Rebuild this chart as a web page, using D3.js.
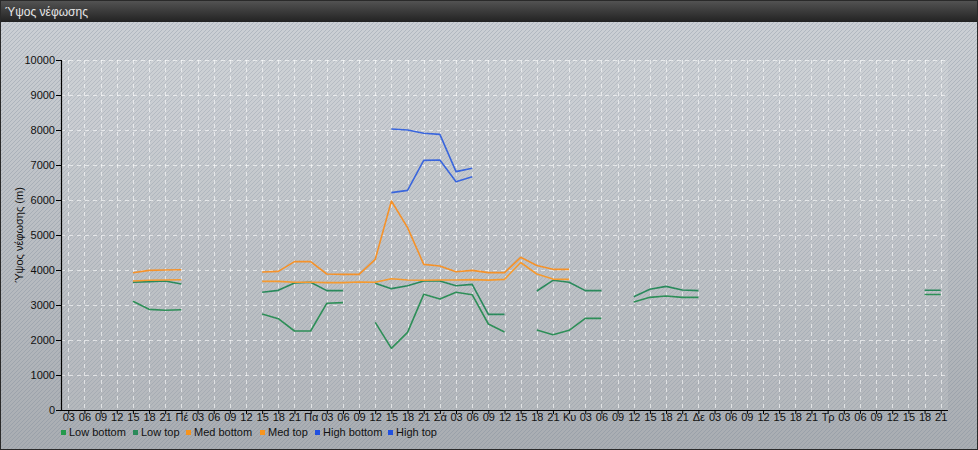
<!DOCTYPE html>
<html><head><meta charset="utf-8">
<script src="https://cdn.jsdelivr.net/npm/d3@7"></script>
<style>html,body{margin:0;padding:0;background:#fff;}svg{display:block;font-family:"Liberation Sans",Arial,sans-serif;}</style>
</head><body>
<script>
const title = "Ύψος νέφωσης";
const yTitle = "Ύψος νέφωσης (m)";
const xLabels = ["03","06","09","12","15","18","21","Πέ","03","06","09","12","15","18","21","Πα","03","06","09","12","15","18","21","Σά","03","06","09","12","15","18","21","Κυ","03","06","09","12","15","18","21","Δε","03","06","09","12","15","18","21","Τρ","03","06","09","12","15","18","21"];
const yTicks = [0,1000,2000,3000,4000,5000,6000,7000,8000,9000,10000];
const seriesNames = ["Low bottom","Low top","Med bottom","Med top","High bottom","High top"];
const seriesColors = ["#249a4c","#2a8a5a","#f7941d","#f7941d","#2050e0","#2050e0"];
const lineColors = ["#2e8f58","#2a8a5c","#f59a30","#f5922a","#3a66dd","#3a66dd"];
const N = null;
const lowBottom = [N,N,N,N,3105,2876,2848,2866,N,N,N,N,2743,2610,2257,2257,3048,3067,N,2505,1762,2219,3305,3171,3362,3295,2457,2229,N,2286,2152,2276,2619,2619,N,3086,3219,3257,3219,3219,N,N,N,N,N,N,N,N,N,N,N,N,N,3300,3300];
const lowTop = [N,N,N,N,3648,3667,3686,3600,N,N,N,N,3362,3419,3629,3648,3410,3410,N,3619,3467,3552,3686,3686,3552,3590,2733,2733,N,3400,3705,3648,3410,3410,N,3238,3448,3533,3429,3410,N,N,N,N,N,N,N,N,N,N,N,N,N,3420,3420];
const medBottom = [N,N,N,N,3686,3705,3714,3723,N,N,N,N,3676,3676,3648,3648,3638,3638,3657,3648,3752,3714,3705,3714,3714,3724,3710,3733,4215,3886,3740,3733,N,N,N,N,N,N,N,N,N,N,N,N,N,N,N,N,N,N,N,N,N,N,N];
const medTop = [N,N,N,N,3923,3990,4000,4009,N,N,N,N,3943,3962,4238,4238,3886,3876,3876,4305,5971,5210,4162,4114,3952,3990,3924,3924,4362,4130,4019,4019,N,N,N,N,N,N,N,N,N,N,N,N,N,N,N,N,N,N,N,N,N,N,N];
const highBottom = [N,N,N,N,N,N,N,N,N,N,N,N,N,N,N,N,N,N,N,N,6210,6276,7133,7143,6524,6667,N,N,N,N,N,N,N,N,N,N,N,N,N,N,N,N,N,N,N,N,N,N,N,N,N,N,N,N,N];
const highTop = [N,N,N,N,N,N,N,N,N,N,N,N,N,N,N,N,N,N,N,N,8029,8000,7905,7876,6810,6905,N,N,N,N,N,N,N,N,N,N,N,N,N,N,N,N,N,N,N,N,N,N,N,N,N,N,N,N,N];
const seriesData = [lowBottom, lowTop, medBottom, medTop, highBottom, highTop];

const W = 978, H = 450;
const svg = d3.select("body").append("svg").attr("width", W).attr("height", H);
const defs = svg.append("defs");
const bg = defs.append("linearGradient").attr("id","bg").attr("x1",0).attr("y1",0).attr("x2",0).attr("y2",1);
bg.append("stop").attr("offset","0%").attr("stop-color","#cdd1d6");
bg.append("stop").attr("offset","100%").attr("stop-color","#a9adb2");
const tb = defs.append("linearGradient").attr("id","tb").attr("x1",0).attr("y1",0).attr("x2",0).attr("y2",1);
tb.append("stop").attr("offset","0%").attr("stop-color","#555555");
tb.append("stop").attr("offset","100%").attr("stop-color","#222222");
const pat = defs.append("pattern").attr("id","hatch").attr("patternUnits","userSpaceOnUse").attr("width",4).attr("height",4);
pat.append("path").attr("d","M-1,1 l2,-2 M0,4 l4,-4 M3,5 l2,-2").attr("stroke","rgba(110,125,145,0.28)").attr("stroke-width",1);

svg.append("rect").attr("width",W).attr("height",H).attr("fill","url(#bg)");
svg.append("rect").attr("width",W).attr("height",H).attr("fill","url(#hatch)");
svg.append("rect").attr("width",W).attr("height",22).attr("fill","url(#tb)");
svg.append("text").attr("x",5).attr("y",16).attr("fill","#e6e6e6").attr("font-size",12).text(title);
svg.append("rect").attr("x",0.5).attr("y",0.5).attr("width",W-1).attr("height",H-1).attr("fill","none").attr("stroke","#2a2a2a").attr("stroke-width",1);

const L = 61, R = 948, T = 60, B = 410;
const x = d3.scalePoint().domain(d3.range(xLabels.length)).range([L, R]).padding(0.45);
const y = d3.scaleLinear().domain([0, 10000]).range([B, T]);

svg.append("rect").attr("x",L).attr("y",T).attr("width",R-L).attr("height",B-T).attr("fill","rgba(255,255,255,0.10)");

const grid = svg.append("g").attr("stroke","rgba(255,255,255,0.6)").attr("stroke-dasharray","4,4").attr("stroke-width",1);
grid.selectAll(".h").data(yTicks.slice(1)).join("line")
  .attr("x1",L).attr("x2",R).attr("y1",d=>Math.round(y(d))+0.5).attr("y2",d=>Math.round(y(d))+0.5);
grid.selectAll(".v").data(d3.range(xLabels.length)).join("line")
  .attr("x1",d=>Math.round(x(d))+0.5).attr("x2",d=>Math.round(x(d))+0.5).attr("y1",T).attr("y2",B);

const line = d3.line().defined(d=>d.v!==null).x(d=>x(d.i)).y(d=>y(d.v));
seriesData.forEach((arr, k) => {
  svg.append("path").datum(arr.map((v,i)=>({i,v})))
    .attr("fill","none").attr("stroke",lineColors[k]).attr("stroke-width",1.6)
    .attr("stroke-linejoin","round").attr("d", line);
});

const yAxis = svg.append("g").attr("transform",`translate(${L},0)`)
  .call(d3.axisLeft(y).tickValues(yTicks).tickSize(5).tickSizeOuter(0).tickFormat(d3.format("d")));
const xAxis = svg.append("g").attr("transform",`translate(0,${B})`)
  .call(d3.axisBottom(x).tickSize(4).tickSizeOuter(0).tickFormat(i=>xLabels[i]));
[yAxis, xAxis].forEach(g => {
  g.select(".domain").attr("stroke","#000").attr("stroke-width",1.2);
  g.selectAll(".tick line").attr("stroke","#000");
  g.selectAll("text").attr("fill","#111").attr("font-size",11).attr("font-family","Liberation Sans, Arial, sans-serif");
});
xAxis.selectAll("text").attr("dy","0.55em").attr("y",5);
xAxis.select(".domain").attr("d",`M${L},0.5H${R}`);
yAxis.select(".domain").attr("d",`M0.5,${T}V${B}`);
yAxis.selectAll("text").attr("x",-6);

svg.append("text").attr("transform",`translate(23,${(T+B)/2}) rotate(-90)`).attr("text-anchor","middle")
  .attr("font-size",11).attr("fill","#111").text(yTitle);

const legendX = [61, 133, 186, 260, 315, 388];
const lg = svg.append("g");
seriesNames.forEach((n,k)=>{
  lg.append("rect").attr("x",legendX[k]).attr("y",430).attr("width",5).attr("height",5).attr("fill",seriesColors[k]);
  lg.append("text").attr("x",legendX[k]+8).attr("y",436).attr("font-size",11).attr("fill","#111").text(n);
});
</script>
</body></html>
